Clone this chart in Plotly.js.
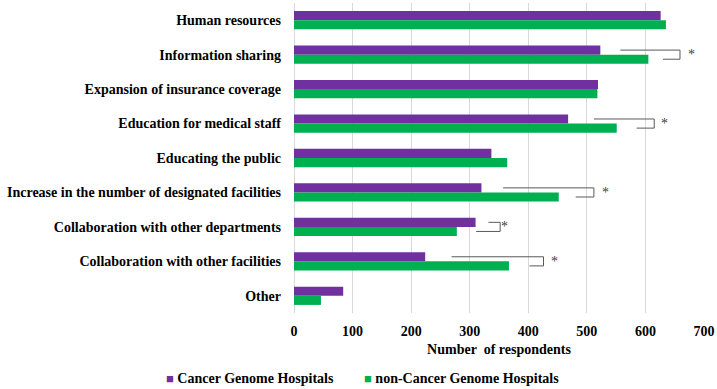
<!DOCTYPE html>
<html>
<head>
<meta charset="utf-8">
<script src="https://cdn.plot.ly/plotly-3.0.1.min.js"></script>
<style>html,body{margin:0;padding:0;background:#fff;}#chart{width:717px;height:389px;}</style>
</head>
<body>
<div id="chart"></div>
<script>
var categories = [
  "Human resources",
  "Information sharing",
  "Expansion of insurance coverage",
  "Education for medical staff",
  "Educating the public",
  "Increase in the number of designated facilities",
  "Collaboration with other departments",
  "Collaboration with other facilities",
  "Other"
];
var cancerGenome = [626, 523, 519, 468, 337, 320, 310, 224, 84];
var nonCancerGenome = [635, 605, 518, 551, 364, 452, 278, 367, 46];
var xTicks = [0, 100, 200, 300, 400, 500, 600, 700];
var seriesNames = ["Cancer Genome Hospitals", "non-Cancer Genome Hospitals"];
var seriesColors = ["#7030A0", "#00B050"];
// significance brackets: category, top-line start, right edge, bottom-line start, star x
var sigCategory = ["Information sharing", "Education for medical staff", "Increase in the number of designated facilities", "Collaboration with other departments", "Collaboration with other facilities"];
var sigTopStart = [557, 512, 357, 332, 269];
var sigRight = [659, 615, 512, 352, 426];
var sigBottomStart = [630, 585, 481, 311, 402];
var sigStarX = [679, 633, 531, 360, 444];

var FONT = "Liberation Serif, Times New Roman, serif";
var bargap = 0.47;
var half = (1 - bargap) / 4; // center offset of each bar in a 2-bar group

var traces = [
  {type: "bar", orientation: "h", name: seriesNames[0], y: categories, x: cancerGenome,
   marker: {color: seriesColors[0]}},
  {type: "bar", orientation: "h", name: seriesNames[1], y: categories, x: nonCancerGenome,
   marker: {color: seriesColors[1]}}
];

var shapes = [], annotations = [];
sigCategory.forEach(function (c, i) {
  var idx = categories.indexOf(c);
  var yTop = idx - half, yBot = idx + half;
  var ln = {color: "#595959", width: 1};
  shapes.push({type: "line", xref: "x", yref: "y", x0: sigTopStart[i], x1: sigRight[i], y0: yTop, y1: yTop, line: ln});
  shapes.push({type: "line", xref: "x", yref: "y", x0: sigRight[i], x1: sigRight[i], y0: yTop, y1: yBot, line: ln});
  shapes.push({type: "line", xref: "x", yref: "y", x0: sigBottomStart[i], x1: sigRight[i], y0: yBot, y1: yBot, line: ln});
  annotations.push({xref: "x", yref: "y", x: sigStarX[i], y: idx, text: "*", showarrow: false,
    font: {family: FONT, size: 14, color: "#404040"}});
});

// legend drawn as text entries (small square glyph tight to label, as in the reference)
var legendX = [-0.318, 0.165];
seriesNames.forEach(function (n, i) {
  annotations.push({xref: "paper", yref: "paper", x: legendX[i], y: -0.21, xanchor: "left", yanchor: "middle",
    showarrow: false, align: "left",
    text: "<span style='color:" + seriesColors[i] + ";font-size:13px'>■</span> " + n,
    font: {family: FONT, size: 14, color: "#000", weight: "bold"}});
});

var layout = {
  width: 717, height: 389,
  margin: {l: 294, r: 13, t: 3, b: 76, autoexpand: false},
  paper_bgcolor: "#fff", plot_bgcolor: "#fff",
  barmode: "group", bargap: bargap, bargroupgap: 0,
  showlegend: false,
  xaxis: {range: [0, 700], tickvals: xTicks, ticktext: xTicks.map(String), showgrid: true, gridcolor: "#d9d9d9",
    zeroline: true, zerolinecolor: "#d9d9d9", showline: false, ticks: "", automargin: false,
    ticklabelstandoff: 8,
    tickfont: {family: FONT, size: 14, color: "#000", weight: "bold"},
    title: {text: "Number  of respondents", font: {family: FONT, size: 14, color: "#000", weight: "bold"}, standoff: 6}},
  yaxis: {autorange: "reversed", type: "category", showgrid: false, ticks: "", showline: false, zeroline: false,
    ticklabelstandoff: 12, automargin: false,
    tickfont: {family: FONT, size: 14, color: "#000", weight: "bold"}},
  shapes: shapes,
  annotations: annotations
};

Plotly.newPlot("chart", traces, layout, {displayModeBar: false, staticPlot: true});
</script>
</body>
</html>
